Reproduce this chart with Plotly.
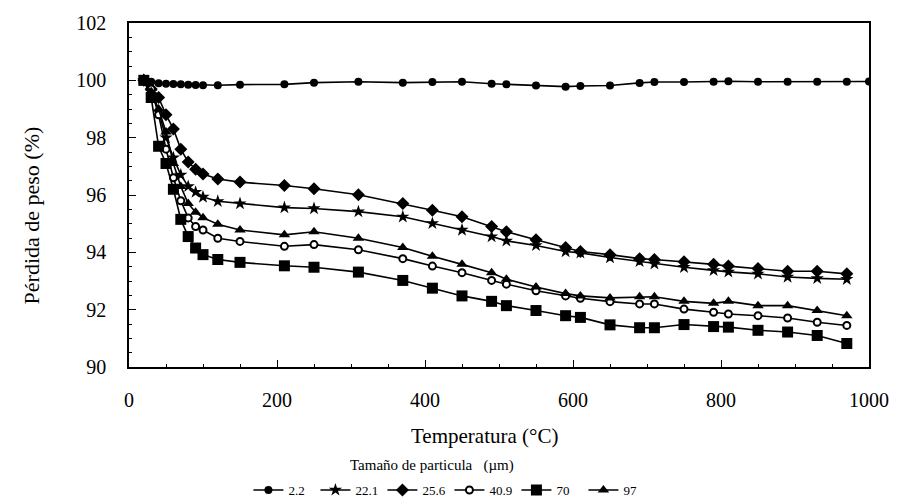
import plotly.graph_objects as go

# Temperatures (°C)
temp = [20, 30, 40, 50, 60, 70, 80, 90, 100, 120, 150, 210, 250, 310, 370, 410,
        450, 490, 510, 550, 590, 610, 650, 690, 710, 750, 790, 810, 850, 890, 930, 970]
temp_22 = temp + [1000]

# Weight (%) per particle size (µm)
w_2_2 = [100.0, 99.95, 99.9, 99.88, 99.87, 99.86, 99.85, 99.84, 99.83, 99.83, 99.85,
         99.86, 99.92, 99.95, 99.92, 99.94, 99.95, 99.88, 99.86, 99.82, 99.78, 99.80,
         99.82, 99.91, 99.94, 99.94, 99.95, 99.97, 99.95, 99.95, 99.95, 99.95, 99.96]
w_22_1 = [100.0, 99.6, 98.9, 98.0, 97.3, 96.7, 96.3, 96.1, 95.93, 95.78, 95.70,
          95.56, 95.53, 95.42, 95.24, 95.01, 94.78, 94.55, 94.40, 94.24, 94.03, 93.98,
          93.82, 93.69, 93.60, 93.48, 93.37, 93.32, 93.25, 93.14, 93.09, 93.06]
w_25_6 = [100.0, 99.7, 99.4, 98.8, 98.3, 97.6, 97.15, 96.9, 96.73, 96.56, 96.45,
          96.33, 96.22, 96.01, 95.70, 95.47, 95.24, 94.90, 94.72, 94.44, 94.17, 94.03,
          93.92, 93.78, 93.75, 93.67, 93.58, 93.52, 93.44, 93.34, 93.34, 93.25]
w_40_9 = [100.0, 99.7, 98.8, 97.6, 96.6, 95.8, 95.2, 94.9, 94.78, 94.49, 94.38,
          94.21, 94.27, 94.09, 93.78, 93.52, 93.29, 93.02, 92.89, 92.66, 92.48, 92.40,
          92.28, 92.20, 92.20, 92.02, 91.91, 91.85, 91.79, 91.71, 91.56, 91.45]
w_70 = [100.0, 99.4, 97.7, 97.1, 96.2, 95.15, 94.55, 94.15, 93.92, 93.75, 93.65,
        93.53, 93.48, 93.31, 93.02, 92.75, 92.48, 92.29, 92.14, 91.97, 91.79, 91.73,
        91.47, 91.37, 91.37, 91.48, 91.41, 91.39, 91.28, 91.22, 91.10, 90.82]
w_97 = [100.0, 99.6, 99.0, 98.2, 97.1, 96.3, 95.7, 95.4, 95.21, 94.98, 94.78,
        94.61, 94.72, 94.49, 94.17, 93.86, 93.58, 93.29, 93.06, 92.79, 92.56, 92.48,
        92.41, 92.45, 92.45, 92.29, 92.22, 92.29, 92.14, 92.14, 91.97, 91.79]

x_ticks = [0, 200, 400, 600, 800, 1000]
y_ticks = [90, 92, 94, 96, 98, 100, 102]

FONT = "Liberation Serif"

series = [
    ("2.2", temp_22, w_2_2, dict(symbol="circle", size=8, color="black")),
    ("22.1", temp, w_22_1, dict(symbol="star", size=10, color="black")),
    ("25.6", temp, w_25_6, dict(symbol="diamond", size=10, color="black")),
    ("40.9", temp, w_40_9, dict(symbol="circle", size=7, color="white",
                               line=dict(color="black", width=2))),
    ("70", temp, w_70, dict(symbol="square", size=11, color="black")),
    ("97", temp, w_97, dict(symbol="triangle-up", size=10, color="black")),
]

fig = go.Figure()
for name, xs, ys, mk in series:
    fig.add_trace(go.Scatter(x=xs, y=ys, name=name, mode="lines+markers",
                             line=dict(color="black", width=1.6), marker=mk))

fig.update_layout(
    width=901, height=499,
    margin=dict(l=128.5, r=23.5, t=19, b=132),
    paper_bgcolor="white", plot_bgcolor="white",
    font=dict(family=FONT, color="black", size=19),
    showlegend=True,
    legend=dict(orientation="h", x=0.433, xanchor="center",
                yref="container", y=(499 - 490) / 499, yanchor="middle",
                font=dict(family=FONT, size=13), itemwidth=30, tracegroupgap=0,
                entrywidth=22, entrywidthmode="pixels", borderwidth=0,
                bgcolor="rgba(0,0,0,0)"),
)
fig.update_xaxes(range=[0, 1000], tickvals=x_ticks, showline=True, mirror=True,
                 linecolor="black", linewidth=1.5, showgrid=False, zeroline=False,
                 ticks="inside", ticklen=7, tickcolor="black", tickwidth=1.2,
                 minor=dict(dtick=50, ticks="inside", ticklen=3, tickcolor="black", showgrid=False),
                 ticklabelstandoff=14, tickfont=dict(family=FONT, size=20))
fig.update_yaxes(range=[90, 102], tickvals=y_ticks, showline=True, mirror=True,
                 linecolor="black", linewidth=1.5, showgrid=False, zeroline=False,
                 ticks="inside", ticklen=7, tickcolor="black", tickwidth=1.2,
                 minor=dict(dtick=0.5, ticks="inside", ticklen=3, tickcolor="black", showgrid=False),
                 ticklabelstandoff=17, tickfont=dict(family=FONT, size=20))

fig.add_annotation(text="Temperatura (°C)", xref="paper", yref="paper",
                   x=(488 - 128.5) / 749, y=(367 - 437) / 348, showarrow=False,
                   xanchor="center", yanchor="middle", font=dict(family=FONT, size=21))
fig.add_annotation(text="Pérdida de peso (%)", xref="paper", yref="paper",
                   x=(30 - 128.5) / 749, y=(367 - 214) / 348, showarrow=False, textangle=-90,
                   xanchor="center", yanchor="middle", font=dict(family=FONT, size=22))
fig.add_annotation(text="Tamaño de particula &nbsp;&nbsp;(µm)", xref="paper", yref="paper",
                   x=(435 - 128.5) / 749, y=(367 - 467) / 348, showarrow=False,
                   xanchor="center", yanchor="middle", font=dict(family=FONT, size=15))

fig.write_html("out.html")
